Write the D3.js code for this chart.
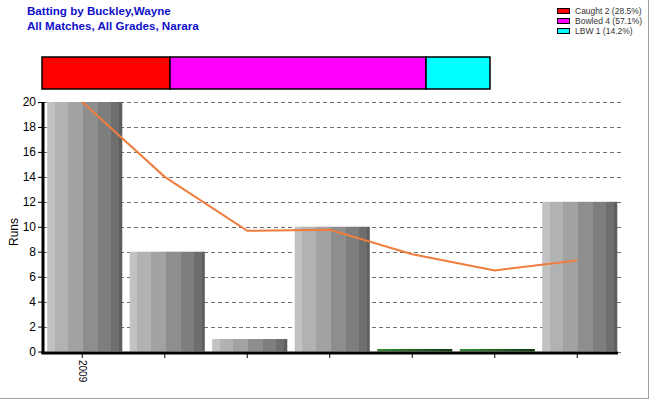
<!DOCTYPE html>
<html>
<head>
<meta charset="utf-8">
<script src="https://cdn.jsdelivr.net/npm/d3@7"></script>
<style>
body{margin:0;background:#fff;}
svg{display:block;font-family:"Liberation Sans",Arial,sans-serif;}
</style>
</head>
<body>
<svg id="chart" width="650" height="400"></svg>
<script>
// ---- data ----
const categories = ["2009", "m2", "m3", "m4", "m5", "m6", "m7"];
const tickLabels = ["2009", "", "", "", "", "", ""];
const runs = [20, 8, 1, 10, 0, 0, 12];
const average = [20, 14, 9.67, 9.75, 7.8, 6.5, 7.29];
const dismissalLabels = ["Caught 2 (28.5%)", "Bowled 4 (57.1%)", "LBW 1 (14.2%)"];
const dismissalCounts = [2, 4, 1];
const dismissalColors = ["#ff0000", "#ff00ff", "#00ffff"];
const yTicks = [0, 2, 4, 6, 8, 10, 12, 14, 16, 18, 20];
const titleLines = ["Batting by Buckley,Wayne", "All Matches, All Grades, Narara"];

const svg = d3.select("#chart");

// frame (right/bottom edge)
svg.append("line").attr("x1", 648.5).attr("x2", 648.5).attr("y1", 0).attr("y2", 399).attr("stroke", "#a0a0a0");
svg.append("line").attr("x1", 0).attr("x2", 649).attr("y1", 398.5).attr("y2", 398.5).attr("stroke", "#a0a0a0");

// title
svg.append("g").selectAll("text").data(titleLines).join("text")
  .attr("x", 27).attr("y", (d, i) => 15 + i * 15)
  .attr("fill", "#1010cc").attr("font-weight", "bold").attr("font-size", 11.6)
  .text(d => d);

// legend
const lg = svg.append("g");
dismissalLabels.forEach((t, i) => {
  lg.append("rect").attr("x", 557.5).attr("y", 8.5 + i * 10).attr("width", 12).attr("height", 5)
    .attr("fill", dismissalColors[i]).attr("stroke", "#000").attr("stroke-width", 1);
  lg.append("text").attr("x", 575).attr("y", 14 + i * 10).attr("font-size", 8.5).attr("fill", "#333")
    .text(t);
});

// dismissal stacked bar
const total = d3.sum(dismissalCounts);
const sx = d3.scaleLinear().domain([0, total]).range([42, 490]);
let cum = 0;
const segs = dismissalCounts.map((c, i) => { const s = {x0: cum, x1: cum + c, color: dismissalColors[i]}; cum += c; return s; });
svg.append("g").selectAll("rect").data(segs).join("rect")
  .attr("x", d => sx(d.x0)).attr("y", 57).attr("width", d => sx(d.x1) - sx(d.x0)).attr("height", 32)
  .attr("fill", d => d.color).attr("stroke", "#000").attr("stroke-width", 1.5);

// scales
const x = d3.scaleBand().domain(categories).range([43.5, 621]).paddingInner(0.09).paddingOuter(0.045);
const y = d3.scaleLinear().domain([0, 20]).range([351.5, 102]);

// gradients
const defs = svg.append("defs");
const grey = defs.append("linearGradient").attr("id", "grey").attr("x1", "0%").attr("x2", "100%").attr("y1", "0%").attr("y2", "0%");
const stripes = [[0, 0.10, "#c2c2c2"], [0.10, 0.28, "#b2b2b2"], [0.28, 0.48, "#a2a2a2"], [0.48, 0.68, "#8e8e8e"], [0.68, 0.85, "#7e7e7e"], [0.85, 0.96, "#6e6e6e"], [0.96, 1, "#5e5e5e"]];
stripes.forEach(s => {
  grey.append("stop").attr("offset", s[0]).attr("stop-color", s[2]);
  grey.append("stop").attr("offset", s[1]).attr("stop-color", s[2]);
});
const green = defs.append("linearGradient").attr("id", "green").attr("x1", "0%").attr("x2", "100%");
green.append("stop").attr("offset", 0).attr("stop-color", "#3a8a3a");
green.append("stop").attr("offset", 1).attr("stop-color", "#0f3a0f");

// gridlines
svg.append("g").selectAll("line").data(yTicks).join("line")
  .attr("x1", 43).attr("x2", 621).attr("y1", d => Math.round(y(d)) + 0.5).attr("y2", d => Math.round(y(d)) + 0.5)
  .attr("stroke", "#707070").attr("stroke-dasharray", "4,3");

// bars
svg.append("g").selectAll("rect").data(runs).join("rect")
  .attr("x", (d, i) => x(categories[i]))
  .attr("width", x.bandwidth())
  .attr("y", d => d > 0 ? y(d) : y(0) - 2.5)
  .attr("height", d => d > 0 ? y(0) - y(d) : 2.5)
  .attr("fill", d => d > 0 ? "url(#grey)" : "url(#green)");

// average line
const line = d3.line().x((d, i) => x(categories[i]) + x.bandwidth() / 2 - 2.5).y(d => y(d));
svg.append("path").datum(average).attr("d", line).attr("fill", "none")
  .attr("stroke", "#ee7d3e").attr("stroke-width", 2);

// y axis
const yAxis = svg.append("g").attr("transform", "translate(43,0)")
  .call(d3.axisLeft(y).tickValues(yTicks).tickSize(5).tickPadding(2));
yAxis.select(".domain").remove();
yAxis.selectAll("text").attr("font-size", 12).attr("fill", "#000").attr("font-family", "Liberation Sans, Arial, sans-serif");
svg.append("line").attr("x1", 43).attr("x2", 43).attr("y1", 102).attr("y2", 354).attr("stroke", "#000").attr("stroke-width", 3);

// x axis
const xAxis = svg.append("g").attr("transform", "translate(-2.5,353)")
  .call(d3.axisBottom(x).tickSize(5).tickFormat((d, i) => tickLabels[i]));
xAxis.select(".domain").remove();
xAxis.selectAll("text").attr("font-size", 10).attr("fill", "#000")
  .attr("font-family", "Liberation Sans, Arial, sans-serif")
  .attr("transform", "rotate(90)").attr("text-anchor", "start").attr("dy", "0.35em").attr("x", 7).attr("y", 0);
svg.append("line").attr("x1", 41.5).attr("x2", 618).attr("y1", 353).attr("y2", 353).attr("stroke", "#000").attr("stroke-width", 3);

// y label
svg.append("text").attr("transform", "translate(18,232) rotate(-90)").attr("text-anchor", "middle")
  .attr("font-size", 12).attr("fill", "#000").text("Runs");
</script>
</body>
</html>
